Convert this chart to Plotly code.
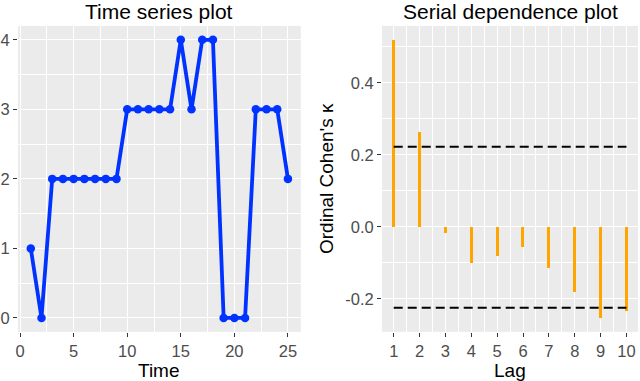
import plotly.graph_objects as go

# time series
temps = list(range(1, 26))
valeurs = [1, 0, 2, 2, 2, 2, 2, 2, 2, 3, 3, 3, 3, 3, 4, 3, 4, 4, 0, 0, 0, 3, 3, 3, 2]

# serial dependence
lags = list(range(1, 11))
kappa = [0.518, 0.263, -0.016, -0.100, -0.080, -0.055, -0.115, -0.180, -0.254, -0.233]
borne_haute = 0.222
borne_basse = -0.225

gris = "#EBEBEB"
texte = "#4D4D4D"
police = "Liberation Sans, Arial, sans-serif"

fig = go.Figure()
fig.add_trace(
    go.Scatter(
        x=temps,
        y=valeurs,
        mode="lines+markers",
        line=dict(color="#0033FF", width=3.8),
        marker=dict(color="#0033FF", size=8.5),
        xaxis="x", yaxis="y",
        showlegend=False
        )
)
fig.add_trace(
    go.Bar(
        x=lags,
        y=kappa,
        width=0.12,
        marker=dict(color="#FFA500", line=dict(width=0)),
        xaxis="x2", yaxis="y2",
        showlegend=False
        )
)
for b in [borne_haute, borne_basse]:
    fig.add_trace(
        go.Scatter(
            x=[lags[0], lags[-1]],
            y=[b, b],
            mode="lines",
            line=dict(color="black", width=2, dash="9px,5px"),
            xaxis="x2", yaxis="y2",
            showlegend=False
            )
    )

axe = dict(
    showgrid=True, gridcolor="white", gridwidth=1.3,
    minor=dict(showgrid=True, gridcolor="white", gridwidth=0.6),
    zeroline=False, showline=False, automargin=False,
    ticks="outside", ticklen=4, tickcolor="#333333", tickwidth=1,
    tickfont=dict(size=16.5, color=texte, family=police),
)

def texte_annot(t, x, y, angle=0, taille=19):
    return dict(text=t, x=x, y=y, xref="paper", yref="paper",
                xanchor="center", yanchor="middle", showarrow=False, textangle=angle,
                font=dict(size=taille, color="black", family=police))

fig.update_layout(
    width=640, height=381,
    margin=dict(l=0, r=0, t=0, b=0),
    paper_bgcolor="white",
    plot_bgcolor=gris,
    font=dict(family=police, color="black"),
    bargap=0,
    xaxis=dict(axe, domain=[0.028, 0.470], range=[-0.2, 26.2],
               tickvals=[0, 5, 10, 15, 20, 25],
               minor=dict(axe["minor"], tickvals=[2.5, 7.5, 12.5, 17.5, 22.5]),
               anchor="y"),
    yaxis=dict(axe, domain=[0.129, 0.932], range=[-0.2, 4.2],
               tickvals=[0, 1, 2, 3, 4],
               minor=dict(axe["minor"], tickvals=[0.5, 1.5, 2.5, 3.5]),
               anchor="x"),
    xaxis2=dict(axe, domain=[0.597, 0.997], range=[0.55, 10.45],
                tickvals=lags,
                minor=dict(axe["minor"], tickvals=[1.5 + i for i in range(9)]),
                anchor="y2"),
    yaxis2=dict(axe, domain=[0.129, 0.932], range=[-0.292, 0.558],
                tickvals=[-0.2, 0.0, 0.2, 0.4],
                ticktext=["-0.2", "0.0", "0.2", "0.4"],
                minor=dict(axe["minor"], tickvals=[-0.1, 0.1, 0.3, 0.5]),
                anchor="x2"),
    annotations=[
        texte_annot("Time series plot", 0.249, 1 - 12 / 381, taille=21),
        texte_annot("Serial dependence plot", 0.797, 1 - 12 / 381, taille=21),
        texte_annot("Time", 0.249, 1 - 370 / 381),
        texte_annot("Lag", 0.797, 1 - 370 / 381),
        texte_annot("Ordinal Cohen's κ", 326 / 640, 1 - 179 / 381, angle=-90),
    ]
)

fig.write_html("out.html", config={"displayModeBar": False},
               post_script="document.body.style.margin='0';")
